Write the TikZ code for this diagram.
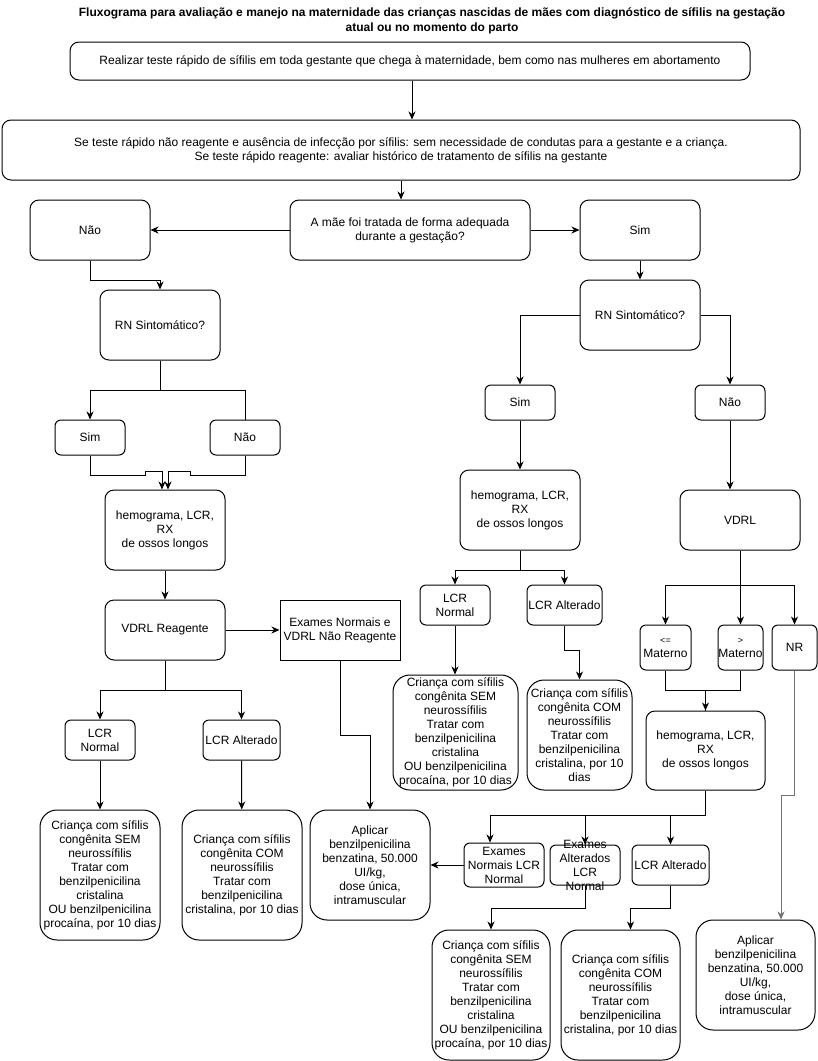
\documentclass[tikz,border=0pt]{standalone}
\usepackage{fontspec}
\setmainfont{Liberation Sans}
\usetikzlibrary{positioning,arrows.meta}

\begin{document}
\begin{tikzpicture}[
  x=1pt, y=-1pt,
  box/.style={draw, rounded corners=9pt, align=center, inner sep=1pt, line width=1pt, font=\fontsize{12}{14}\selectfont},
  sbox/.style={box, rounded corners=6pt},
  tbox/.style={box, rounded corners=17pt},
  arr/.style={-{Stealth[length=8pt, width=7pt, inset=2.5pt]}, line width=1pt},
  ln/.style={line width=1pt}
]
\useasboundingbox (0,0) rectangle (818,1061);
\node[font=\bfseries\fontsize{12}{15}\selectfont, align=center] (titulo) at (432,21) {Fluxograma para avaliação e manejo na maternidade das crianças nascidas de mães com diagnóstico de sífilis na gestação\\atual ou no momento do parto};
\node[box, minimum width=680pt, minimum height=38pt] (realizar) at (410,61) {Realizar teste rápido de sífilis em toda gestante que chega à maternidade, bem como nas mulheres em abortamento};
\node[box, minimum width=798pt, minimum height=60pt] (sehist) at (401,150) {Se teste rápido não reagente e ausência de infecção por sífilis: sem necessidade de condutas para a gestante e a criança.\\Se teste rápido reagente: avaliar histórico de tratamento de sífilis na gestante};
\node[box, minimum width=240pt, minimum height=60pt] (maetrat) at (410,230) {A mãe foi tratada de forma adequada\\durante a gestação?};
\node[box, minimum width=120pt, minimum height=60pt] (naoA) at (90,230) {Não};
\node[box, minimum width=120pt, minimum height=60pt] (simA) at (640,230) {Sim};

\node[box, minimum width=120pt, minimum height=70pt] (rnL) at (160,325) {RN Sintomático?};
\node[sbox, minimum width=70pt, minimum height=35pt] (simL) at (90,437.5) {Sim};
\node[sbox, minimum width=70pt, minimum height=35pt] (naoL) at (245,437.5) {Não};
\node[box, minimum width=120pt, minimum height=80pt] (hemoL) at (165,530) {hemograma, LCR,\\RX\\de ossos longos};
\node[box, minimum width=120pt, minimum height=60pt] (vdrlReag) at (165,630) {VDRL Reagente};
\node[box, sharp corners, minimum width=120pt, minimum height=60pt] (exNormL) at (340,630) {Exames Normais e\\VDRL Não Reagente};
\node[sbox, minimum width=70pt, minimum height=40pt] (lcrNormL) at (100,740) {LCR\\Normal};
\node[sbox, minimum width=77pt, minimum height=40pt] (lcrAltL) at (241.5,740) {LCR Alterado};
\node[tbox, minimum width=120pt, minimum height=130pt] (semL) at (100,875) {Criança com sífilis\\congênita SEM\\neurossífilis\\Tratar com\\benzilpenicilina\\cristalina\\OU benzilpenicilina\\procaína, por 10 dias};
\node[tbox, minimum width=120pt, minimum height=130pt] (comL) at (242,875) {Criança com sífilis\\congênita COM\\neurossífilis\\Tratar com\\benzilpenicilina\\cristalina, por 10 dias};
\node[tbox, minimum width=120pt, minimum height=110pt] (aplL) at (370,865) {Aplicar\\benzilpenicilina\\benzatina, 50.000\\UI/kg,\\dose única,\\intramuscular};

\node[box, minimum width=120pt, minimum height=70pt] (rnR) at (640,315) {RN Sintomático?};
\node[sbox, minimum width=70pt, minimum height=35pt] (simR) at (520,402.5) {Sim};
\node[sbox, minimum width=70pt, minimum height=35pt] (naoR) at (730,402.5) {Não};
\node[box, minimum width=120pt, minimum height=80pt] (hemoR) at (520,510) {hemograma, LCR,\\RX\\de ossos longos};
\node[box, minimum width=120pt, minimum height=60pt] (vdrl) at (740,520) {VDRL};
\node[sbox, minimum width=70pt, minimum height=40pt] (lcrNormM) at (455,605) {LCR\\Normal};
\node[sbox, minimum width=75pt, minimum height=40pt] (lcrAltM) at (564.5,605) {LCR Alterado};
\node[tbox, minimum width=125pt, minimum height=115pt] (semM) at (455.5,732.5) {Criança com sífilis\\congênita SEM\\neurossífilis\\Tratar com\\benzilpenicilina\\cristalina\\OU benzilpenicilina\\procaína, por 10 dias};
\node[tbox, minimum width=105pt, minimum height=110pt] (comM) at (579.5,735) {Criança com sífilis\\congênita COM\\neurossífilis\\Tratar com\\benzilpenicilina\\cristalina, por 10\\dias};
\node[sbox, inner xsep=0pt, minimum width=51pt, minimum height=45pt] (menor) at (665.5,647.5) {{\fontsize{9}{10}\selectfont <=}\\Materno};
\node[sbox, inner xsep=0pt, minimum width=45pt, minimum height=45pt] (maior) at (740.5,647.5) {{\fontsize{9}{10}\selectfont >}\\Materno};
\node[sbox, minimum width=45pt, minimum height=45pt] (nr) at (794.5,647.5) {NR};
\node[box, minimum width=119pt, minimum height=79pt] (hemoR2) at (705.5,750.5) {hemograma, LCR,\\RX\\de ossos longos};
\node[sbox, minimum width=80pt, minimum height=44pt] (exNormR) at (504,865) {Exames\\Normais LCR\\Normal};
\node[sbox, minimum width=70pt, minimum height=40pt] (exAltR) at (585,865) {};
\node[font=\fontsize{12}{14}\selectfont, align=center] (exAltTxt) at (exAltR) {Exames\\Alterados\\LCR\\Normal};
\node[sbox, minimum width=77pt, minimum height=40pt] (lcrAltR) at (670.5,865) {LCR Alterado};
\node[tbox, minimum width=118pt, minimum height=130pt] (semB) at (491,995) {Criança com sífilis\\congênita SEM\\neurossífilis\\Tratar com\\benzilpenicilina\\cristalina\\OU benzilpenicilina\\procaína, por 10 dias};
\node[tbox, minimum width=119pt, minimum height=130pt] (comB) at (620.5,995) {Criança com sífilis\\congênita COM\\neurossífilis\\Tratar com\\benzilpenicilina\\cristalina, por 10 dias};
\node[tbox, minimum width=119pt, minimum height=110pt] (aplR) at (755.5,975) {Aplicar\\benzilpenicilina\\benzatina, 50.000\\UI/kg,\\dose única,\\intramuscular};

\draw[arr] ([xshift=2pt]realizar.south) -- ([xshift=2pt]realizar.south |- sehist.north);
\draw[arr] (sehist.south) -- (sehist.south |- maetrat.north);
\draw[arr] (maetrat.west) -- (naoA.east);
\draw[arr] (maetrat.east) -- (simA.west);

\draw[arr] (naoA.south) -- ++(0,20) -| (rnL.north);
\draw[arr] (rnL.south) -- ++(0,30) -| (simL.north);
\draw[ln] (rnL.south) -- ++(0,30) -| (naoL.north);
\draw[arr] (simL.south) |- (145,475) -- (145,471) -| ([xshift=-3pt]hemoL.north);
\draw[arr] (naoL.south) |- (190,475) -- (190,471) -| ([xshift=3pt]hemoL.north);
\draw[arr] (hemoL) -- (vdrlReag);
\draw[arr] (vdrlReag.east) -- (exNormL.west);
\draw[arr] (vdrlReag.south) -- ++(0,30) -| (lcrNormL.north);
\draw[arr] (vdrlReag.south) -- ++(0,30) -| (lcrAltL.north);
\draw[arr] (lcrNormL) -- (semL);
\draw[arr] (lcrAltL) -- (comL);
\draw[arr] (exNormL.south) -- ++(0,75) -| (aplL.north);

\draw[arr] (simA) -- (rnR);
\draw[arr] (rnR.west) -| (simR.north);
\draw[arr] (rnR.east) -| (naoR.north);
\draw[arr] (simR) -- (hemoR);
\draw[arr] (naoR.south) -- (naoR.south |- vdrl.north);
\draw[arr] (hemoR.south) -- ++(0,20) -| (lcrNormM.north);
\draw[arr] (hemoR.south) -- ++(0,20) -| (lcrAltM.north);
\draw[arr] (lcrNormM.south) -- (lcrNormM.south |- semM.north);
\draw[arr] (lcrAltM.south) -- ++(0,25) -| (comM.north);
\draw[arr] (vdrl.south) -- ++(0,35) -| (menor.north);
\draw[arr] (vdrl.south) -- ++(0,35) -| (maior.north);
\draw[arr] (vdrl.south) -- ++(0,35) -| (nr.north);
\draw[arr] (menor.south) -- ++(0,20) -| (hemoR2.north);
\draw[ln] (maior.south) -- ++(0,20) -| (hemoR2.north);
\draw[arr, draw=black!55] (nr.south) -- ++(0,125) -| ([xshift=25.5pt]aplR.north);
\draw[arr] (hemoR2.south) -- ++(0,25) -| ([xshift=-14pt]exNormR.north);
\draw[arr] (hemoR2.south) -- ++(0,25) -| (exAltR.north);
\draw[arr] (hemoR2.south) -- ++(0,25) -| (lcrAltR.north);
\draw[arr] (exNormR.west) -- (aplL.east);
\draw[arr] (exAltR.south) -- ++(0,23) -| (semB.north);
\draw[arr] (lcrAltR.south) -- ++(0,23) -| ([xshift=10pt]comB.north);
\end{tikzpicture}
\end{document}
